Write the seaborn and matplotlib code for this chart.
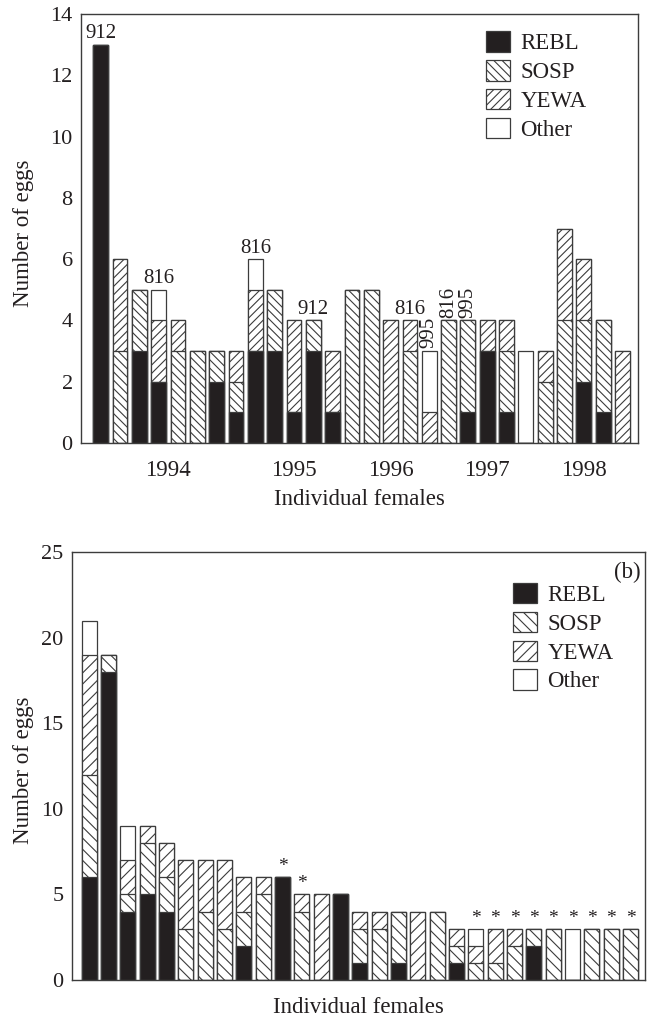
import matplotlib
matplotlib.use("Agg")
import matplotlib.pyplot as plt
from matplotlib.patches import Patch
import numpy as np
import seaborn as sns

# top panel: eggs laid by each female, by host species, 1994-1998
a_rebl = [13, 0, 3, 2, 0, 0, 2, 1, 3, 3, 1, 3, 1, 0, 0, 0, 0, 0, 0, 1, 3, 1, 0, 0, 0, 2, 1, 0]
a_sosp = [0, 3, 2, 0, 3, 3, 1, 1, 0, 2, 0, 1, 0, 5, 5, 0, 3, 0, 4, 3, 0, 2, 0, 2, 4, 2, 3, 0]
a_yewa = [0, 3, 0, 2, 1, 0, 0, 1, 2, 0, 3, 0, 2, 0, 0, 4, 1, 1, 0, 0, 1, 1, 0, 1, 3, 2, 0, 3]
a_other = [0, 0, 0, 1, 0, 0, 0, 0, 1, 0, 0, 0, 0, 0, 0, 0, 0, 2, 0, 0, 0, 0, 3, 0, 0, 0, 0, 0]
a_years = ['1994', '1995', '1996', '1997', '1998']
a_year_sizes = [8, 5, 5, 5, 5]
# male ids written above some bars: (bar index, label, vertical)
a_males = [(0, '912', False), (3, '816', False), (8, '816', False), (11, '912', False),
           (16, '816', False), (17, '995', True), (18, '816', True), (19, '995', True)]

# bottom panel (b): eggs per female, sorted
b_rebl = [6, 18, 4, 5, 4, 0, 0, 0, 2, 0, 6, 0, 0, 5, 1, 0, 1, 0, 0, 1, 0, 0, 0, 2, 0, 0, 0, 0, 0]
b_sosp = [6, 1, 1, 3, 2, 3, 4, 3, 2, 5, 0, 4, 0, 0, 2, 3, 3, 0, 4, 1, 1, 1, 2, 1, 3, 0, 3, 3, 3]
b_yewa = [7, 0, 2, 1, 2, 4, 3, 4, 2, 1, 0, 1, 5, 0, 1, 1, 0, 4, 0, 1, 1, 2, 1, 0, 0, 0, 0, 0, 0]
b_other = [2, 0, 2, 0, 0, 0, 0, 0, 0, 0, 0, 0, 0, 0, 0, 0, 0, 0, 0, 0, 1, 0, 0, 0, 0, 3, 0, 0, 0]
b_starred = [10, 11, 20, 21, 22, 23, 24, 25, 26, 27, 28]

species = ['REBL', 'SOSP', 'YEWA', 'Other']

INK = '#231f20'
EDGE = '#3c3c3c'

sns.set_style('white')
plt.rcParams['font.family'] = ['Liberation Serif', 'DejaVu Serif']
plt.rcParams['hatch.linewidth'] = 0.8
plt.rcParams['text.color'] = INK
plt.rcParams['axes.labelcolor'] = INK
plt.rcParams['xtick.color'] = EDGE
plt.rcParams['ytick.color'] = EDGE
plt.rcParams['xtick.labelcolor'] = INK
plt.rcParams['ytick.labelcolor'] = INK


def stacked_bars(ax, rebl, sosp, yewa, other, n_hatch):
    rebl, sosp, yewa, other = map(np.array, (rebl, sosp, yewa, other))
    ids = [str(i) for i in range(len(rebl))]
    # draw cumulative heights from the top layer down, each one covering the last
    layers = [
        (rebl + sosp + yewa + other, 'white', ''),
        (rebl + sosp + yewa, 'white', '/' * n_hatch),
        (rebl + sosp, 'white', '\\' * n_hatch),
        (rebl, INK, ''),
    ]
    for h, fc, hatch in layers:
        sns.barplot(x=ids, y=h, order=ids, color=fc, saturation=1, width=0.77,
                    edgecolor=EDGE, linewidth=0.9, hatch=hatch, errorbar=None, ax=ax)
    return rebl + sosp + yewa + other


def species_legend(ax, n_hatch, anchor):
    handles = [
        Patch(facecolor=INK, edgecolor=EDGE, linewidth=0.9),
        Patch(facecolor='white', edgecolor=EDGE, linewidth=0.9, hatch='\\' * n_hatch),
        Patch(facecolor='white', edgecolor=EDGE, linewidth=0.9, hatch='/' * n_hatch),
        Patch(facecolor='white', edgecolor=EDGE, linewidth=0.9),
    ]
    ax.legend(handles, species, loc='upper left', bbox_to_anchor=anchor, frameon=False,
              fontsize=16.5, handlelength=1.05, handleheight=1.0, labelspacing=0.25,
              handletextpad=0.45, borderpad=0, borderaxespad=0)


def frame(ax):
    for s in ax.spines.values():
        s.set_visible(True)
        s.set_color(EDGE)
        s.set_linewidth(1.0)


fig = plt.figure(figsize=(6.47, 10.18), dpi=100)

# ---- top panel ----
ax1 = fig.add_axes([0.1252, 0.5648, 0.8609, 0.4214])
tot_a = stacked_bars(ax1, a_rebl, a_sosp, a_yewa, a_other, 4)
frame(ax1)
ax1.set_xlim(-1.02, 27.8)
ax1.set_ylim(0, 14)
ax1.set_yticks(range(0, 15, 2))
ax1.tick_params(axis='y', direction='in', length=6, width=0.9, labelsize=16, pad=6)

edges = np.cumsum(a_year_sizes)
starts = edges - np.array(a_year_sizes)
ax1.set_xticks(edges[:-1] - 0.5)
ax1.set_xticklabels([])
ax1.set_xticks((starts + edges - 1) / 2, minor=True)
ax1.set_xticklabels(a_years, minor=True)
ax1.tick_params(axis='x', which='major', direction='out', length=8, width=0.9)
ax1.tick_params(axis='x', which='minor', length=0, labelsize=16.5, pad=12)

for i, txt, vert in a_males:
    if vert:
        ax1.annotate(txt, (i, tot_a[i]), xytext=(0, 2), textcoords='offset points',
                     ha='center', va='bottom', rotation=90, fontsize=15)
    else:
        ax1.annotate(txt, (i, tot_a[i]), xytext=(0, 1), textcoords='offset points',
                     ha='center', va='bottom', fontsize=15)

ax1.set_xlabel('Individual females', fontsize=16.5)
ax1.xaxis.set_label_coords(0.5, -0.106)
ax1.xaxis.label.set_va('top')
ax1.set_ylabel('Number of eggs', fontsize=16.5)
ax1.yaxis.set_label_coords(-0.084, 0.49)
species_legend(ax1, 4, (0.727, 0.96))

# ---- bottom panel ----
ax2 = fig.add_axes([0.1108, 0.0373, 0.8861, 0.4204])
tot_b = stacked_bars(ax2, b_rebl, b_sosp, b_yewa, b_other, 3)
frame(ax2)
ax2.set_xlim(-0.905, 28.75)
ax2.set_ylim(0, 25)
ax2.set_yticks(range(0, 26, 5))
ax2.tick_params(axis='y', direction='in', length=5, width=0.9, labelsize=16, pad=6)
ax2.set_xticks([])

for i in b_starred:
    ax2.annotate('*', (i, tot_b[i]), xytext=(0, 1.5), textcoords='offset points',
                 ha='center', va='bottom', fontsize=14)

ax2.text(0.992, 0.976, '(b)', transform=ax2.transAxes, ha='right', va='top', fontsize=16.5)
ax2.set_xlabel('Individual females', fontsize=16.5)
ax2.xaxis.set_label_coords(0.5, -0.04)
ax2.xaxis.label.set_va('top')
ax2.set_ylabel('Number of eggs', fontsize=16.5)
ax2.yaxis.set_label_coords(-0.066, 0.49)
species_legend(ax2, 3, (0.77, 0.928))

fig.savefig('out.png', dpi=100)
